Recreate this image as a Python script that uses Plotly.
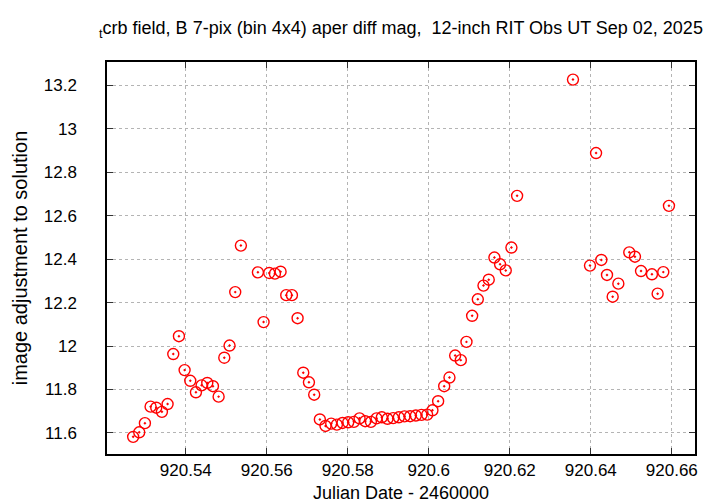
import plotly.graph_objects as go

jd = [920.5270, 920.5285, 920.5299, 920.5313, 920.5327, 920.5341, 920.5355, 920.5369,
      920.5383, 920.5397, 920.5411, 920.5425, 920.5439, 920.5453, 920.5467, 920.5481,
      920.5495, 920.5508, 920.5522, 920.5536, 920.5578, 920.5592, 920.5606, 920.5620,
      920.5634, 920.5648, 920.5662, 920.5676, 920.5690, 920.5704, 920.5717, 920.5731,
      920.5745, 920.5759, 920.5773, 920.5787, 920.5801, 920.5815, 920.5829, 920.5843,
      920.5857, 920.5871, 920.5884, 920.5898, 920.5912, 920.5926, 920.5940, 920.5954,
      920.5968, 920.5982, 920.5996, 920.6009, 920.6023, 920.6038, 920.6051, 920.6065,
      920.6079, 920.6093, 920.6107, 920.6121, 920.6135, 920.6148, 920.6162, 920.6176,
      920.6190, 920.6204, 920.6218,
      920.6356, 920.6398, 920.6413, 920.6426, 920.6440, 920.6454, 920.6468, 920.6495,
      920.6509, 920.6524, 920.6551, 920.6565, 920.6579, 920.6593]
mag = [11.582, 11.603, 11.645, 11.721, 11.716, 11.697, 11.733, 11.963,
       12.045, 11.889, 11.840, 11.787, 11.819, 11.830, 11.815, 11.767,
       11.946, 12.002, 12.248, 12.462, 12.339, 12.110, 12.336, 12.333,
       12.342, 12.234, 12.234, 12.128, 11.877, 11.833, 11.776, 11.662,
       11.632, 11.643, 11.638, 11.646, 11.649, 11.651, 11.667, 11.654,
       11.651, 11.667, 11.672, 11.665, 11.668, 11.672, 11.676, 11.677,
       11.680, 11.683, 11.684, 11.704, 11.746, 11.815, 11.855, 11.956,
       11.935, 12.019, 12.139, 12.215, 12.278, 12.305, 12.407, 12.376,
       12.348, 12.453, 12.691,
       13.226, 12.370, 12.888, 12.396, 12.327, 12.227, 12.287, 12.431,
       12.411, 12.345, 12.330, 12.241, 12.340, 12.645]

x_ticks = [920.54, 920.56, 920.58, 920.60, 920.62, 920.64, 920.66]
x_tick_labels = ["920.54", "920.56", "920.58", "920.6", "920.62", "920.64", "920.66"]
y_ticks = [11.6, 11.8, 12.0, 12.2, 12.4, 12.6, 12.8, 13.0, 13.2]
y_tick_labels = ["11.6", "11.8", "12", "12.2", "12.4", "12.6", "12.8", "13", "13.2"]

FONT = "Liberation Sans, Arial, Helvetica, sans-serif"
FS_TICK = 17
FS_TITLE = 18

fig = go.Figure()
fig.add_trace(go.Scatter(
    x=jd, y=mag, mode="markers",
    marker=dict(symbol="circle-open-dot", size=11, color="#ff0000",
                line=dict(width=1.4, color="#ff0000")),
    showlegend=False,
))

axis_common = dict(
    showline=True, linecolor="black", linewidth=1.5, mirror="allticks",
    ticks="inside", ticklen=6, tickwidth=1, tickcolor="#333333",
    showgrid=True, gridcolor="#b4b4b4", griddash="dot", gridwidth=1,
    zeroline=False,
    tickfont=dict(family=FONT, size=FS_TICK, color="black"),
)

fig.update_layout(
    width=720, height=504,
    paper_bgcolor="white", plot_bgcolor="white",
    margin=dict(l=99, r=33, t=54, b=58),
    font=dict(family=FONT, size=FS_TICK, color="black"),
    title=dict(
        text="<sub>t</sub>crb field, B 7-pix (bin 4x4) aper diff mag,  12-inch RIT Obs UT Sep 02, 2025",
        x=0.5, xref="paper", xanchor="center",
        y=1 - 20 / 504, yref="container", yanchor="middle",
        font=dict(family=FONT, size=FS_TITLE, color="black"),
    ),
    xaxis=dict(range=[920.52054, 920.66573], tickvals=x_ticks, ticktext=x_tick_labels,
               title=dict(text="Julian Date - 2460000", standoff=7,
                          font=dict(family=FONT, size=18)),
               ticklabelstandoff=0,
               **axis_common),
    yaxis=dict(range=[11.503, 13.307], tickvals=y_ticks, ticktext=y_tick_labels,
               title=dict(text="image adjustment to solution", standoff=11,
                          font=dict(family=FONT, size=20)),
               ticklabelstandoff=25,
               **axis_common),
)

fig.write_html("out.html")
